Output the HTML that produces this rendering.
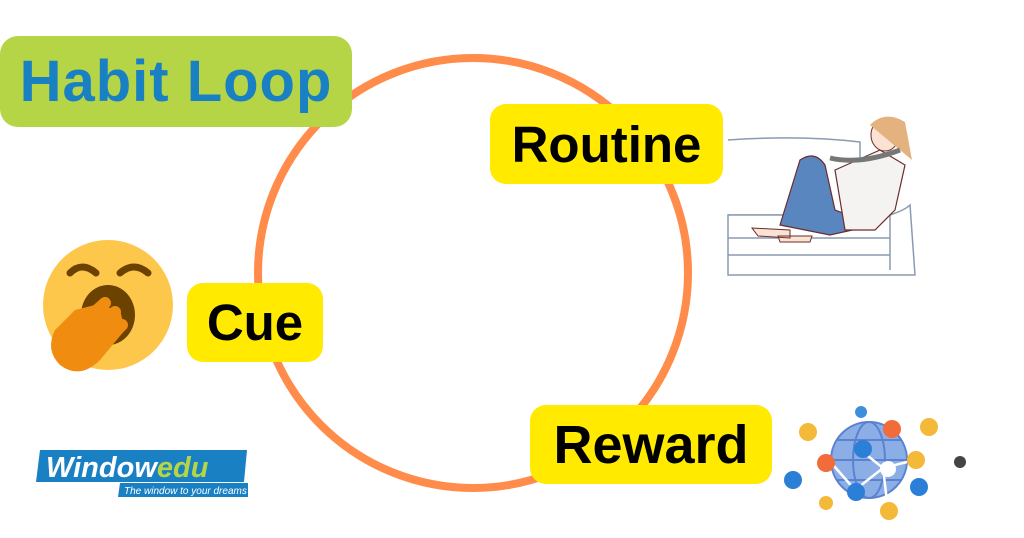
<!DOCTYPE html>
<html><head><meta charset="utf-8"><style>
html,body{margin:0;padding:0;background:#fff;width:1024px;height:538px;overflow:hidden;position:relative;font-family:"Liberation Sans",sans-serif}
.box{position:absolute;display:flex;align-items:center;justify-content:center;font-weight:bold;border-radius:16px}
.y{background:#FFEA00;color:#000}
</style></head><body>
<svg width="1024" height="538" style="position:absolute;left:0;top:0">
<circle cx="473" cy="273" r="215" fill="none" stroke="#FF8C4A" stroke-width="8"/>
<!-- yawn emoji -->
<circle cx="108" cy="305" r="65" fill="#FDC74B"/>
<path d="M70 273 q12 -12 26 0" stroke="#6B4200" stroke-width="7" fill="none" stroke-linecap="round"/>
<path d="M120 273 q14 -12 28 0" stroke="#6B4200" stroke-width="7" fill="none" stroke-linecap="round"/>
<ellipse cx="108" cy="315" rx="27" ry="30" fill="#6B4200"/>
<path d="M55 330 L75 310 L95 305 L120 310 L125 330 L100 360 Q80 380 60 365 Q45 350 55 330Z" fill="#F08C0F"/>
<path d="M75 330 L105 303 M85 340 L115 312 M95 350 L122 325" stroke="#F08C0F" stroke-width="12" stroke-linecap="round"/>
<!-- logo -->
<path d="M40 450 L247 450 L244 482 L36 482Z" fill="#1A80C4"/>
<path d="M120 483 L248 483 L248 497 L118 497Z" fill="#1A80C4"/>
<text x="46" y="477" font-family="Liberation Sans" font-weight="bold" font-style="italic" font-size="29" fill="#fff">Windo<tspan>w</tspan><tspan fill="#B5D547">edu</tspan></text>
<text x="124" y="494" font-family="Liberation Sans" font-style="italic" font-size="10" fill="#fff">The window to your dreams</text>
<!-- sofa & girl -->
<g stroke="#8A9BB0" stroke-width="1.5" fill="#fff">
<path d="M728 140 Q800 135 860 142 L860 215 L728 215"/>
<path d="M728 215 L890 215 Q905 210 910 205 L915 275 L728 275 Z"/>
<path d="M728 238 L890 238 M728 255 L890 255 M890 205 L890 270"/>
</g>
<path d="M780 225 L800 160 Q815 150 825 165 L835 210 L875 225 L830 235Z" fill="#5A86C0" stroke="#6B2D2D" stroke-width="1.2"/>
<path d="M835 170 L880 150 L905 165 L895 210 L875 230 L845 230Z" fill="#F5F2F2" stroke="#6B2D2D" stroke-width="1.2"/>
<ellipse cx="885" cy="135" rx="14" ry="16" fill="#FCE2D2" stroke="#6B2D2D"/>
<path d="M870 125 Q885 110 905 122 L912 160 L900 150 Z" fill="#E3B27E"/>
<path d="M752 228 L790 230 L790 238 L758 236Z M778 236 L812 236 L810 242 L780 242Z" fill="#FCE2D2" stroke="#6B2D2D"/>
<path d="M830 158 Q860 165 900 150" stroke="#777" stroke-width="5" fill="none"/>
<!-- globe -->
<circle cx="869" cy="460" r="38" fill="#8BAEE6" stroke="#5B82D0" stroke-width="2"/>
<g stroke="#5B82D0" stroke-width="2" fill="none"><ellipse cx="869" cy="460" rx="16" ry="38"/><path d="M831 460 H907 M836 440 H902 M836 480 H902"/></g>
<g stroke="#fff" stroke-width="2.5" fill="none"><path d="M827 458 L855 490 L883 468 L907 462 M863 452 L883 468 L888 510"/></g>
<g>
<circle cx="808" cy="432" r="9" fill="#F5B93A"/><circle cx="863" cy="449" r="9" fill="#2B7FD6"/><circle cx="892" cy="429" r="9" fill="#F26B3A"/>
<circle cx="929" cy="427" r="9" fill="#F5B93A"/><circle cx="826" cy="463" r="9" fill="#F26B3A"/><circle cx="793" cy="480" r="9" fill="#2B7FD6"/>
<circle cx="916" cy="460" r="9" fill="#F5B93A"/><circle cx="888" cy="469" r="8" fill="#fff"/><circle cx="856" cy="492" r="9" fill="#2B7FD6"/>
<circle cx="919" cy="487" r="9" fill="#2B7FD6"/><circle cx="889" cy="511" r="9" fill="#F5B93A"/><circle cx="826" cy="503" r="7" fill="#F5B93A"/>
<circle cx="960" cy="462" r="6" fill="#444"/><path d="M861 418 a6 6 0 1 1 0.1 0 L861 432Z" fill="#3E8EDE"/>
</g>
</svg>
<div class="box" style="left:0;top:36px;width:352px;height:91px;background:#B5D547;color:#1A80C4;font-size:58px;border-radius:18px;letter-spacing:1px">Habit Loop</div>
<div class="box y" style="left:490px;top:104px;width:233px;height:80px;font-size:51px">Routine</div>
<div class="box y" style="left:187px;top:283px;width:136px;height:79px;font-size:51px">Cue</div>
<div class="box y" style="left:530px;top:405px;width:242px;height:79px;font-size:54px">Reward</div>
</body></html>
